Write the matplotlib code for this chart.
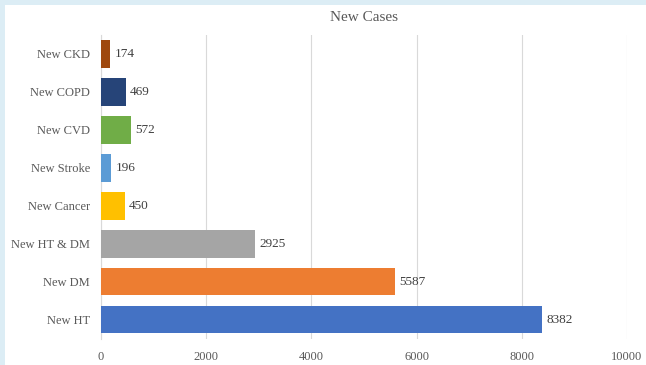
import matplotlib
matplotlib.use("Agg")
import matplotlib.pyplot as plt
from matplotlib.patches import Rectangle

categories = ["New HT", "New DM", "New HT & DM", "New Cancer", "New Stroke", "New CVD", "New COPD", "New CKD"]
values = [8382, 5587, 2925, 450, 196, 572, 469, 174]
colors = ["#4472c4", "#ed7d31", "#a5a5a5", "#ffc000", "#5b9bd5", "#70ad47", "#264478", "#9e480e"]
xticks = [0, 2000, 4000, 6000, 8000, 10000]

plt.rcParams['font.family'] = ['Liberation Serif', 'DejaVu Serif']

fig = plt.figure(figsize=(6.46, 3.65), dpi=100)
fig.patch.set_facecolor("#dcedf5")
bg = Rectangle((5/646, 0), 1, 360/365, transform=fig.transFigure,
               facecolor="white", edgecolor="none", zorder=-10)
fig.add_artist(bg)

ax = fig.add_axes([101/646, 26.5/365, 526/646, 303.5/365])
ax.set_zorder(1)
ax.set_facecolor("none")
y = list(range(len(categories)))
ax.barh(y, values, height=0.73, color=colors, zorder=3)
for yi, v in zip(y, values):
    ax.text(v + 80, yi, str(v), va="center", ha="left", fontsize=9.5, color="#404040", zorder=4)

ax.set_xlim(0, 10000)
ax.set_ylim(-0.5, 7.5)
ax.set_xticks(xticks)
ax.set_xticklabels([str(t) for t in xticks])
ax.set_yticks(y)
ax.set_yticklabels(categories)
ax.tick_params(axis="both", length=0, labelsize=9, colors="#595959")
ax.tick_params(axis="y", pad=8)
ax.tick_params(axis="x", pad=9)
ax.grid(axis="x", color="#d9d9d9", linewidth=0.8, zorder=0)
for s in ["top", "right", "bottom"]:
    ax.spines[s].set_visible(False)
ax.spines["left"].set_color("#d9d9d9")
ax.set_title("New Cases", fontsize=11, color="#595959", pad=10)

fig.savefig("out.png", dpi=100, facecolor=fig.get_facecolor())
